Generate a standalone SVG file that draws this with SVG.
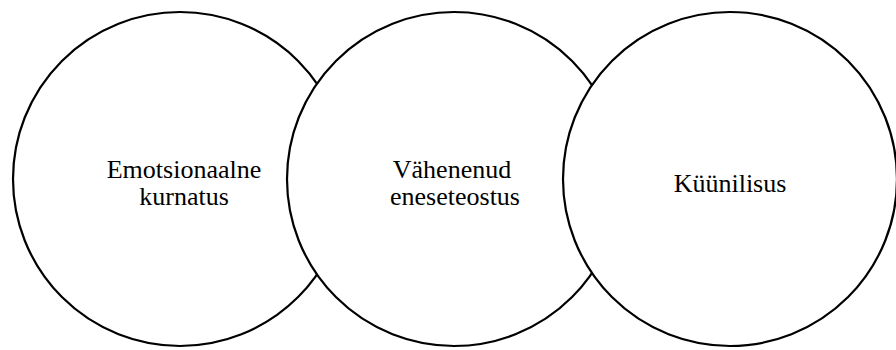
<svg xmlns="http://www.w3.org/2000/svg" width="896" height="350" viewBox="0 0 896 350">
<style>
.c{fill:#fff;stroke:#000;stroke-width:2.2}
.t{font-family:"Liberation Serif","Times New Roman",serif;font-size:26px;fill:#000;text-anchor:middle}
</style>
<rect width="896" height="350" fill="#fff"/>
<g id="node1"><circle class="c" cx="180" cy="179" r="167"/>
<text class="t" x="184" y="178">Emotsionaalne</text><text class="t" x="184" y="205">kurnatus</text></g>
<g id="node2"><circle class="c" cx="454" cy="179" r="167"/>
<text class="t" x="452" y="178">Vähenenud</text><text class="t" x="455" y="205">eneseteostus</text></g>
<g id="node3"><circle class="c" cx="730" cy="179" r="167"/>
<text class="t" x="730" y="192">Küünilisus</text></g>
<g id="connectors"></g>
</svg>
